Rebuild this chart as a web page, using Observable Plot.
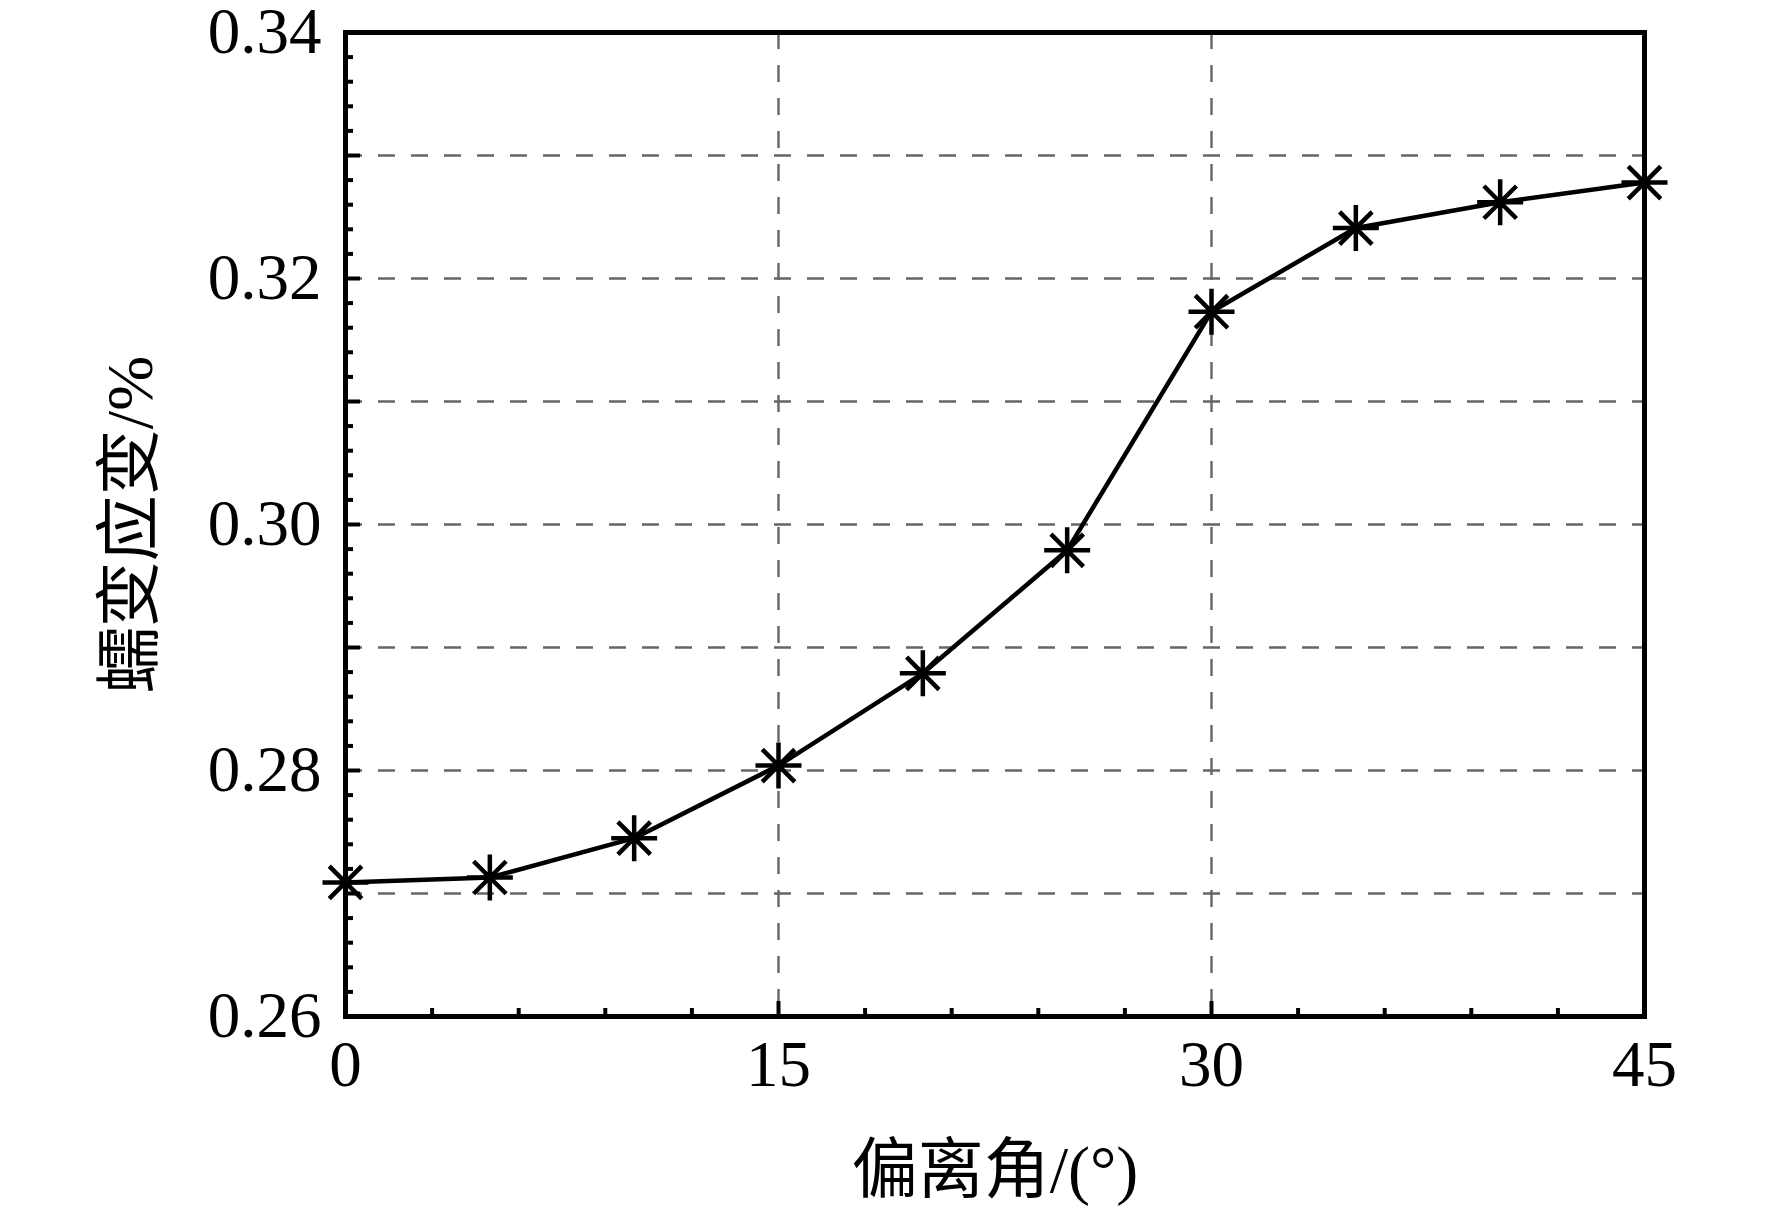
<!DOCTYPE html>
<html><head><meta charset="utf-8">
<script src="https://cdn.jsdelivr.net/npm/d3@7"></script>
<script src="https://cdn.jsdelivr.net/npm/@observablehq/plot@0.6"></script>
<style>html,body{margin:0;padding:0;background:#fff;}</style>
</head><body><div id="chart"></div>
<script>
// ---- data ----
const angles = [0, 5, 10, 15, 20, 25, 30, 35, 40, 45];
const strain = [0.2709, 0.2713, 0.2745, 0.2804, 0.2879, 0.2979, 0.3173, 0.3241, 0.3262, 0.3278];
const xMajorTicks = [0, 15, 30, 45];
const xMinorTicks = [3, 6, 9, 12, 18, 21, 24, 27, 33, 36, 39, 42];
const yMajorTicks = [0.26, 0.28, 0.30, 0.32, 0.34];
const yMidTicks = [0.27, 0.29, 0.31, 0.33];
const yMinorTicks = [0.262, 0.264, 0.266, 0.268, 0.272, 0.274, 0.276, 0.278,
  0.282, 0.284, 0.286, 0.288, 0.292, 0.294, 0.296, 0.298,
  0.302, 0.304, 0.306, 0.308, 0.312, 0.314, 0.316, 0.318,
  0.322, 0.324, 0.326, 0.328, 0.332, 0.334, 0.336, 0.338];
const xGridTicks = [15, 30];
const yGridTicks = [0.27, 0.28, 0.29, 0.30, 0.31, 0.32, 0.33];
const xTitle = "偏离角/(°)";
const yTitle = "蠕变应变/%";

// ---- layout ----
const W = 1772, H = 1210, mL = 345, mR = 128, mT = 32, mB = 194;
const innerW = W - mL - mR, innerH = H - mT - mB;
const data = angles.map((a, i) => ({angle: a, strain: strain[i]}));

const star8 = {
  draw(ctx, size) {
    const r = Math.sqrt(size / Math.PI), d = r * Math.SQRT1_2;
    ctx.moveTo(-r, 0); ctx.lineTo(r, 0);
    ctx.moveTo(0, -r); ctx.lineTo(0, r);
    ctx.moveTo(-d, -d); ctx.lineTo(d, d);
    ctx.moveTo(-d, d); ctx.lineTo(d, -d);
  }
};

const gridStyle = {stroke: "#666666", strokeOpacity: 1, strokeWidth: 2.4, strokeDasharray: "17,16"};

const chart = Plot.plot({
  width: W, height: H,
  marginLeft: mL, marginRight: mR, marginTop: mT, marginBottom: mB,
  style: {fontFamily: '"Liberation Serif", "Noto Sans CJK SC", serif', background: "white", color: "black", overflow: "visible"},
  x: {domain: [0, 45], axis: null},
  y: {domain: [0.26, 0.34], axis: null},
  marks: [
    Plot.gridY(yGridTicks, {...gridStyle}),
    Plot.gridX(xGridTicks, {...gridStyle}),
    Plot.line(data, {x: "angle", y: "strain", stroke: "black", strokeWidth: 4.5}),
    Plot.dot(data, {x: "angle", y: "strain", symbol: star8, r: 23, stroke: "black", fill: "none", strokeWidth: 4.5}),
    Plot.tickY([...yMajorTicks, ...yMidTicks], {y: d => d, stroke: "black", strokeWidth: 4, insetRight: innerW - 15}),
    Plot.tickY(yMinorTicks, {y: d => d, stroke: "black", strokeWidth: 4, insetRight: innerW - 8}),
    Plot.tickX(xMajorTicks, {x: d => d, stroke: "black", strokeWidth: 4, insetTop: innerH - 15}),
    Plot.tickX(xMinorTicks, {x: d => d, stroke: "black", strokeWidth: 4, insetTop: innerH - 8}),
    Plot.frame({stroke: "black", strokeWidth: 5}),
    Plot.axisY({ticks: yMajorTicks, tickSize: 0, tickPadding: 24, tickFormat: d => d.toFixed(2), fontSize: 65, label: null}),
    Plot.axisX({ticks: xMajorTicks, tickSize: 0, tickPadding: 23, tickFormat: d => String(d), fontSize: 65, label: null}),
    Plot.text([xTitle], {frameAnchor: "bottom", dy: 154, text: d => d, fontSize: 66, lineAnchor: "middle", textAnchor: "middle", fill: "black"}),
    Plot.text([yTitle], {frameAnchor: "left", dx: -215, rotate: -90, text: d => d, fontSize: 66, lineAnchor: "middle", textAnchor: "middle", fill: "black"})
  ]
});
document.getElementById("chart").appendChild(chart);
</script>
</body></html>
